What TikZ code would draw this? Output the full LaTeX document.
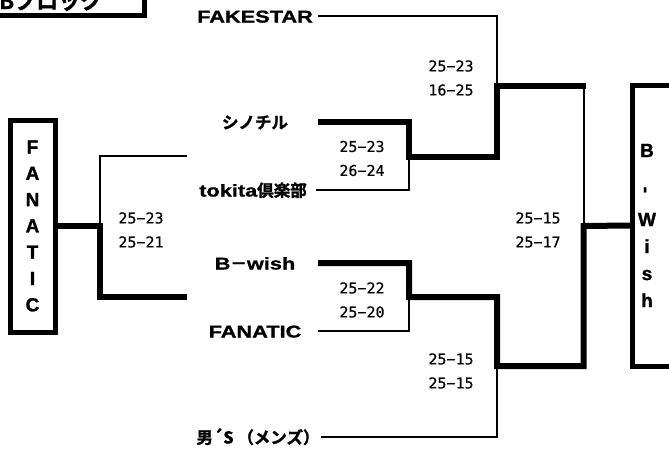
\documentclass[tikz,border=0pt]{standalone}
\usepackage{fontspec}
\newfontfamily\namefont{Liberation Sans}[UprightFont={* Bold},FakeStretch=1.28,FakeBold=1.2]
\newfontfamily\jpfont{Noto Sans CJK JP}[UprightFont={* Bold},FakeBold=1.5]
\newfontfamily\scorefont{DejaVu Sans Mono}[FakeBold=0.4]
\newfontfamily\letterfont{Liberation Sans}[UprightFont={* Bold},FakeBold=1.5]
\newcommand\jtext[1]{{\jpfont\fontsize{16.5}{20}\selectfont #1}}
\tikzset{
  thin line/.style={line width=2pt},
  win line/.style={line width=6pt},
  team/.style={font=\namefont\fontsize{17}{20}\selectfont, minimum width=126pt,
    inner sep=0pt, text height=13pt, text depth=0pt},
  score/.style={font=\scorefont\fontsize{15}{24}\selectfont, align=center, inner sep=0pt},
  champ/.style={draw, line width=5pt, inner sep=0pt},
}
\begin{document}
\begin{tikzpicture}[x=1pt, y=-1pt]
    \useasboundingbox (0,0) rectangle (669,450);
    \clip (0,0) rectangle (669,450);
    % block title (cut at the top edge)
    \draw[line width=5pt] (-20,-20) rectangle (144.5,15);
    \node[font=\jpfont\fontsize{22}{22}\selectfont, anchor=base west, inner sep=0pt] (blockname) at (-1,9) {Bブロック};
    % teams
    \node[team] (fake) at (255,16) {FAKESTAR};
    \node[team] (shino) at (255,122) {\jtext{シノチル}};
    \node[team] (tokita) at (253,190) {tokita\jtext{倶楽部}};
    \node[team] (bwish) at (255,263) {B\jtext{－}wish};
    \node[team] (fanatic) at (255,331) {FANATIC};
    \node[team] (mens) at (258,437) {\jtext{男´S （メンズ）}};
    % meeting points
    \coordinate (m1) at (409,157);
    \coordinate (m2) at (409,297);
    \coordinate (m3) at (497,86);
    \coordinate (m4) at (497,366);
    \coordinate (fin) at (583.5,226);
    % upper half
    \draw[thin line] (fake.east) -- (fake.east -| m3) -- (m3);
    \draw[thin line] (tokita.east) -- (tokita.east -| m1) -- (m1);
    \draw[thin line] (m3 -| fin) -- (fin);
    \draw[win line] (shino.east) -- (shino.east -| m1) -- (m1) -- (m1 -| m3) -- (m3) -- ([xshift=2pt]m3 -| fin);
    % lower half
    \draw[thin line] (fanatic.east) -- (fanatic.east -| m2) -- (m2);
    \draw[thin line] (mens.east) -- (mens.east -| m4) -- (m4);
    % winners
    \node[champ, minimum width=80pt, minimum height=281pt, anchor=west] (wishbox) at (630,225.5) {};
    \node[font=\letterfont\fontsize{19}{27}\selectfont, align=center, inner sep=0pt] (wishname) at (647,225.5)
      {B\\[9pt]\rotatebox{90}{-}\\[6pt]W\\i\\s\\h};
    \draw[win line] (bwish.east) -- (bwish.east -| m2) -- (m2) -- (m2 -| m4) -- (m4) -- (m4 -| fin) -- (fin) -- (wishbox.west);
    % left side
    \node[champ, minimum width=45pt, minimum height=212pt, align=center,
      font=\letterfont\fontsize{19}{26.3}\selectfont] (fanbox) at (32.5,226) {F\\A\\N\\A\\T\\I\\C};
    \coordinate (l1) at (100,226);
    \coordinate (lu) at (187,156);
    \coordinate (ll) at (187,297);
    \draw[thin line] (l1) -- (l1 |- lu) -- (lu);
    \draw[win line] (fanbox.east) -- (l1) -- (l1 |- ll) -- (ll);
    % scores
    \node[score] (s1) at (451,78) {25−23\\16−25};
    \node[score] (s2) at (362,158.5) {25−23\\26−24};
    \node[score] (s3) at (362,300) {25−22\\25−20};
    \node[score] (s4) at (451,371) {25−15\\25−15};
    \node[score] (s5) at (538,230) {25−15\\25−17};
    \node[score] (s6) at (141,230) {25−23\\25−21};
\end{tikzpicture}
\end{document}
